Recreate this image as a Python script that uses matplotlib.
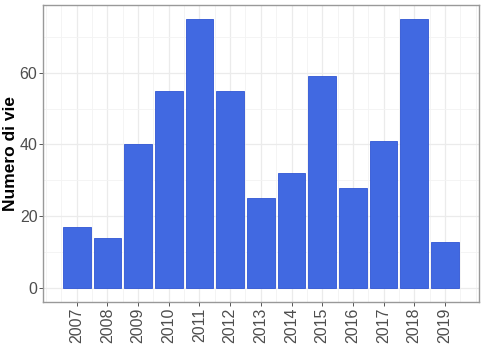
import matplotlib
matplotlib.use("Agg")
import matplotlib.pyplot as plt
from matplotlib.ticker import MultipleLocator

plt.rcParams["font.family"] = ["Liberation Sans", "DejaVu Sans"]

years = [2007, 2008, 2009, 2010, 2011, 2012, 2013, 2014, 2015, 2016, 2017, 2018, 2019]
counts = [17, 14, 40, 55, 75, 55, 25, 32, 59, 28, 41, 75, 13]

BAR_FILL = "#4169E1"
BAR_EDGE = "#2F55D4"


def main():
    fig = plt.figure(figsize=(4.83, 3.62), dpi=100)
    ax = fig.add_axes([0.089, 0.166, 0.902, 0.820])

    ax.bar(years, counts, width=0.9, color=BAR_FILL, edgecolor=BAR_EDGE,
           linewidth=0.6, zorder=3)

    ax.set_xlim(2007 - 1.1, 2019 + 1.1)
    ax.set_ylim(-3.75, 78.75)

    ax.set_xticks(years)
    ax.set_xticklabels([str(y) for y in years], rotation=90)
    ax.xaxis.set_minor_locator(MultipleLocator(0.5))
    ax.yaxis.set_major_locator(MultipleLocator(20))
    ax.yaxis.set_minor_locator(MultipleLocator(10))

    ax.grid(True, which="major", color="#EBEBEB", linewidth=0.9, zorder=0)
    ax.grid(True, which="minor", color="#F3F3F3", linewidth=0.6, zorder=0)
    ax.set_axisbelow(True)

    ax.tick_params(which="major", length=3, width=0.7, color="#555555",
                   labelsize=11.5, labelcolor="#4D4D4D", pad=1)
    ax.tick_params(which="minor", length=0)

    for spine in ax.spines.values():
        spine.set_color("#999999")
        spine.set_linewidth(1.0)

    ax.set_ylabel("Numero di vie", fontsize=12.5, fontweight="bold", labelpad=1)

    fig.savefig("out.png", dpi=100)


if __name__ == "__main__":
    main()
